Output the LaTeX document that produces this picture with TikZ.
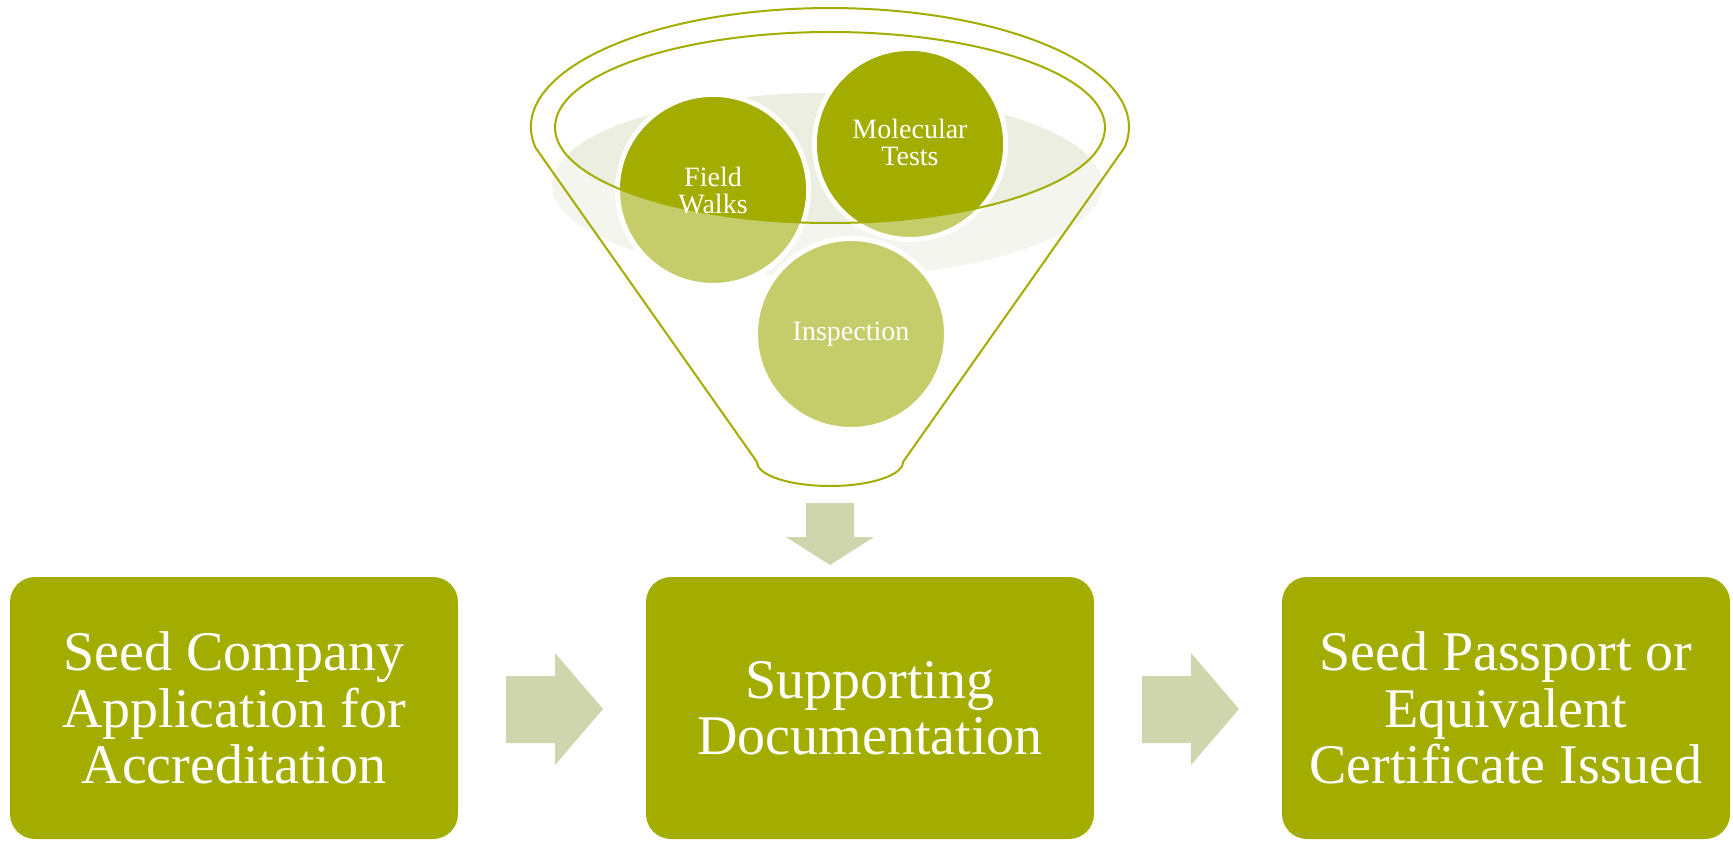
\documentclass[tikz,border=0pt]{standalone}
\usepackage{fontspec}
\setmainfont{Liberation Serif}
\definecolor{dkgreen}{HTML}{A3AD00}
\definecolor{ltgreen}{HTML}{C5CD6B}
\definecolor{arrowgreen}{HTML}{CFD5AD}
\definecolor{shadowin}{HTML}{ECEEE2}
\definecolor{shadowout}{HTML}{F4F5EE}
\begin{document}
\begin{tikzpicture}[x=0.5pt,y=0.5pt,
  stepbox/.style={rounded corners=12.5pt, fill=dkgreen, minimum width=224pt,
    minimum height=131pt, text=white, font=\fontsize{28}{28.25}\selectfont,
    align=center, inner sep=0pt},
  ball/.style={circle, minimum size=95.5pt, inner sep=0pt, fill=ltgreen,
    draw=white, line width=2.5pt},
  balltext/.style={text=white, font=\fontsize{14}{13.5}\selectfont, align=center, inner sep=0pt},
  blockarrow/.style={fill=arrowgreen},
  funnelline/.style={draw=dkgreen, line width=1pt}]

\useasboundingbox (0,0) rectangle (1733,-840);

% shadow under the funnel rim
\fill[shadowout] (827,-185) ellipse [x radius=137.5pt, y radius=46pt];
\begin{scope}
  \clip (830,-127.5) ellipse [x radius=137.5pt, y radius=47.75pt];
  \fill[shadowin] (827,-185) ellipse [x radius=137.5pt, y radius=46pt];
\end{scope}

% balls
\node[ball] (fw) at (713,-190) {};
\node[ball] (mt) at (910,-144) {};
\node[ball] (insp) at (851,-334) {};

% darker part inside the rim
\begin{scope}
  \clip (830,-127.5) ellipse [x radius=137.5pt, y radius=47.75pt];
  \fill[dkgreen] (fw.center) circle [radius=46.5pt];
  \fill[dkgreen] (mt.center) circle [radius=46.5pt];
  \fill[dkgreen] (insp.center) circle [radius=46.5pt];
\end{scope}

% funnel outline
\draw[funnelline] (757,-462) -- (535.5,-147.7)
  arc [start angle=190, end angle=-10, x radius=149.5pt, y radius=59.5pt]
  -- (903,-462)
  arc [start angle=0, end angle=-180, x radius=36.5pt, y radius=12pt]
  -- cycle;
\draw[funnelline] (830,-127.5) ellipse [x radius=137.5pt, y radius=47.75pt];

% ball texts
\node[balltext] (fwt) at (fw.center) {Field\\Walks};
\node[balltext] (mtt) at (910,-142) {Molecular\\Tests};
\node[balltext] (inspt) at (insp.center) {Inspection};

% process boxes
\node[stepbox] (b1) at (234,-708) {Seed Company\\Application for\\Accreditation};
\node[stepbox] (b2) at (870,-708) {Supporting\\Documentation};
\node[stepbox] (b3) at (1506,-708) {Seed Passport or\\Equivalent\\Certificate Issued};

% block arrows
\fill[blockarrow] (806,-503) -- (854,-503) -- (854,-537) -- (874,-537)
  -- (830,-565) -- (786,-537) -- (806,-537) -- cycle;
\fill[blockarrow] (506,-676) -- (555,-676) -- (555,-653) -- (603,-709)
  -- (555,-765) -- (555,-743) -- (506,-743) -- cycle;
\fill[blockarrow] (1142,-676) -- (1191,-676) -- (1191,-653) -- (1239,-709)
  -- (1191,-765) -- (1191,-743) -- (1142,-743) -- cycle;
\end{tikzpicture}
\end{document}
